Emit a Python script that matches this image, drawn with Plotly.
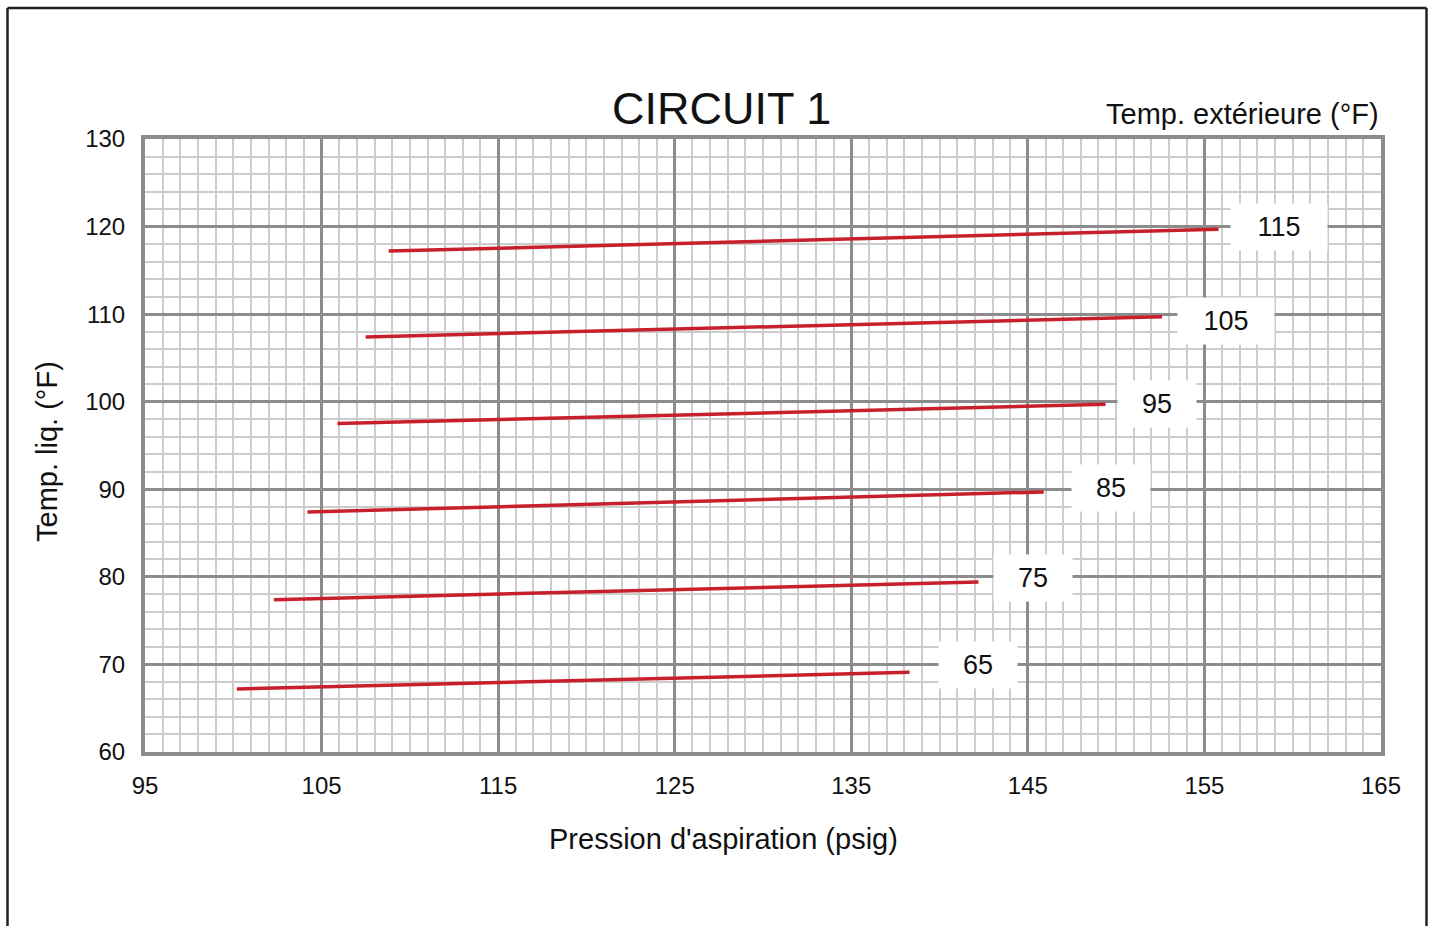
import plotly.graph_objects as go

# Data
outdoor_temps = [65, 75, 85, 95, 105, 115]
pressure_start = [100.2, 102.3, 104.2, 105.9, 107.5, 108.8]
pressure_end = [138.3, 142.2, 145.9, 149.4, 152.6, 155.8]
liq_temp_start = [67.2, 77.4, 87.4, 97.5, 107.4, 117.2]
liq_temp_end = [69.1, 79.4, 89.7, 99.7, 109.7, 119.7]
label_x = [142.2, 145.3, 149.7, 152.3, 156.2, 159.2]
label_y = [69.9, 79.9, 90.1, 99.7, 109.2, 119.9]

x_ticks = [95, 105, 115, 125, 135, 145, 155, 165]
y_ticks = [60, 70, 80, 90, 100, 110, 120, 130]

FONT = "Liberation Sans, Arial, sans-serif"
W, H = 1432, 926
L, R, T, B = 145, 1381, 139, 752

def px_x(px):
    return (px - L) / (R - L)

def px_y(py):
    return (B - py) / (B - T)

fig = go.Figure()
for i, t in enumerate(outdoor_temps):
    fig.add_trace(go.Scatter(
        x=[pressure_start[i], pressure_end[i]],
        y=[liq_temp_start[i], liq_temp_end[i]],
        mode="lines",
        line=dict(color="#c8202a", width=3.5),
        name=str(t),
        showlegend=False,
        hoverinfo="skip",
    ))

annotations = []
for i, t in enumerate(outdoor_temps):
    s = str(t)
    annotations.append(dict(
        x=label_x[i], y=label_y[i], xref="x", yref="y",
        text=s, showarrow=False,
        font=dict(family=FONT, size=27, color="#111111"),
        bgcolor="white", borderpad=0,
        width=96 if len(s) == 3 else 78, height=46,
        align="center", valign="middle",
    ))

annotations += [
    dict(x=px_x(721), y=px_y(108), xref="paper", yref="paper", text="CIRCUIT 1",
         showarrow=False, font=dict(family=FONT, size=45, color="#111111"),
         xanchor="center", yanchor="middle"),
    dict(x=px_x(1381), y=px_y(114), xref="paper", yref="paper", text="Temp. extérieure (°F)",
         showarrow=False, font=dict(family=FONT, size=29, color="#111111"),
         xanchor="right", yanchor="middle"),
    dict(x=px_x(723), y=px_y(839), xref="paper", yref="paper", text="Pression d'aspiration (psig)",
         showarrow=False, font=dict(family=FONT, size=29, color="#111111"),
         xanchor="center", yanchor="middle"),
    dict(x=px_x(47), y=px_y(452), xref="paper", yref="paper", text="Temp. liq. (°F)",
         showarrow=False, font=dict(family=FONT, size=29, color="#111111"),
         xanchor="center", yanchor="middle", textangle=-90),
]

shape_line = dict(color="#222222", width=2.5)
fx0, fx1 = px_x(7.5), px_x(1426.5)
fy0, fy1 = px_y(960), px_y(8)
shapes = [
    dict(type="line", xref="paper", yref="paper", x0=fx0, x1=fx0, y0=fy0, y1=fy1, line=shape_line),
    dict(type="line", xref="paper", yref="paper", x0=fx0, x1=fx1, y0=fy1, y1=fy1, line=shape_line),
    dict(type="line", xref="paper", yref="paper", x0=fx1, x1=fx1, y0=fy0, y1=fy1, line=shape_line),
]

fig.update_layout(
    width=W, height=H,
    margin=dict(l=L, r=W - R, t=T, b=H - B),
    paper_bgcolor="white", plot_bgcolor="white",
    font=dict(family=FONT, color="#111111"),
    annotations=annotations,
    shapes=shapes,
    showlegend=False,
)
fig.update_xaxes(
    range=[95, 165], tickvals=x_ticks, ticktext=[str(v) for v in x_ticks],
    tickfont=dict(family=FONT, size=24, color="#111111"),
    showgrid=True, gridcolor="#8c8c8c", gridwidth=3,
    minor=dict(dtick=1, showgrid=True, gridcolor="#cccccc", gridwidth=1.5, ticks=""),
    showline=True, linecolor="#8c8c8c", linewidth=4, mirror=True,
    zeroline=False, ticks="", ticklabelstandoff=9, fixedrange=True,
)
fig.update_yaxes(
    range=[60, 130], tickvals=y_ticks, ticktext=[str(v) for v in y_ticks],
    tickfont=dict(family=FONT, size=24, color="#111111"),
    showgrid=True, gridcolor="#8c8c8c", gridwidth=3,
    minor=dict(dtick=2, showgrid=True, gridcolor="#cccccc", gridwidth=1.5, ticks=""),
    showline=True, linecolor="#8c8c8c", linewidth=4, mirror=True,
    zeroline=False, ticks="", ticklabelstandoff=11, fixedrange=True,
)

fig.write_html(
    "out.html",
    config=dict(displayModeBar=False),
    post_script="document.body.style.margin='0';document.body.style.overflow='hidden';",
)
